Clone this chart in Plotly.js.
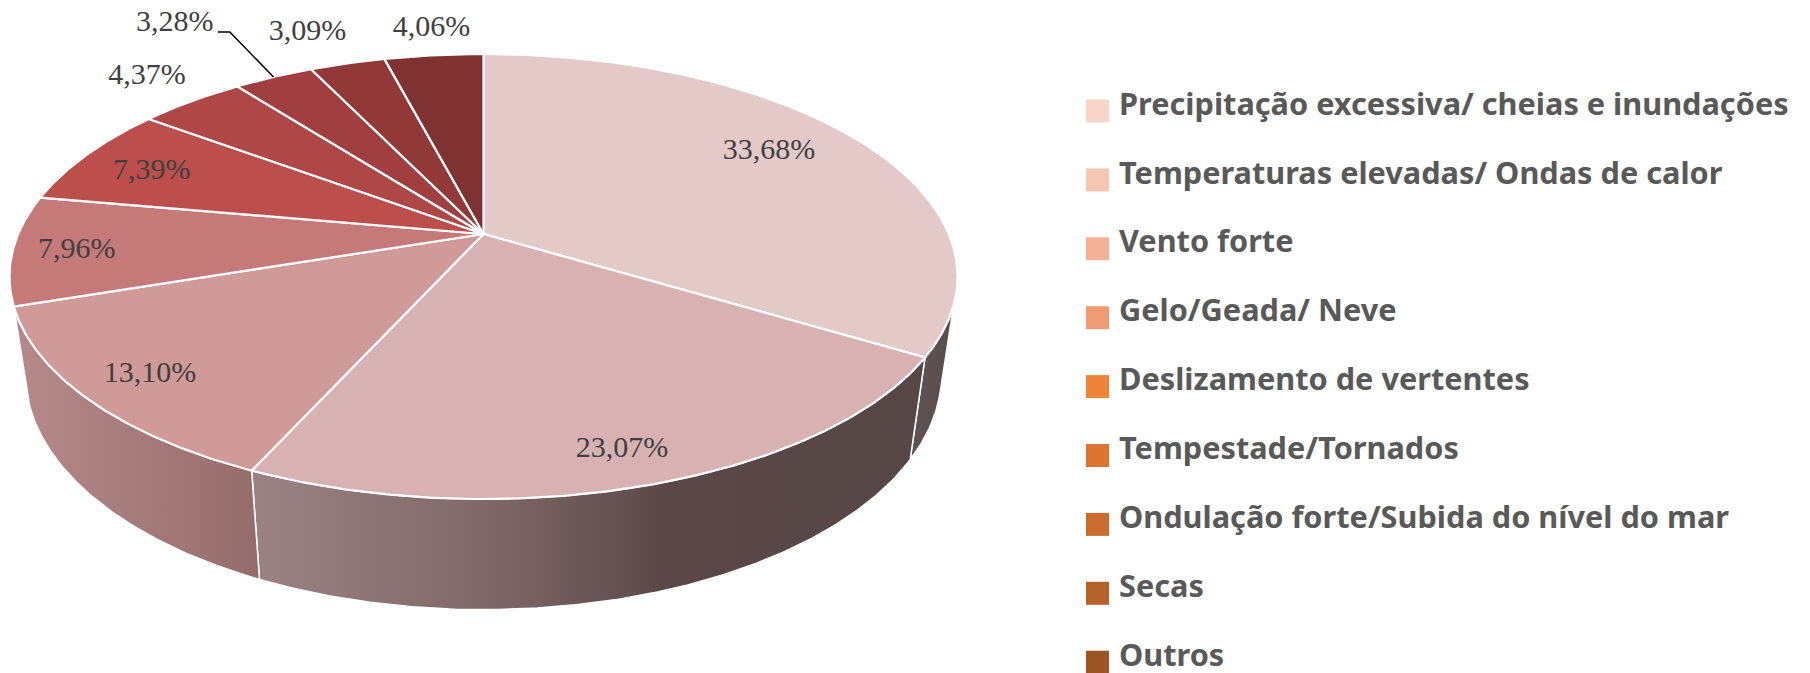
<!DOCTYPE html>
<html><head><meta charset="utf-8">
<script src="https://cdn.plot.ly/plotly-3.0.1.min.js"></script>
<style>html,body{margin:0;padding:0;background:#fff;overflow:hidden}</style>
</head><body><div id="chart" style="width:1810px;height:673px"></div>
<script>
// ---------- data ----------
const categories = ["Precipitação excessiva/ cheias e inundações","Temperaturas elevadas/ Ondas de calor","Vento forte","Gelo/Geada/ Neve","Deslizamento de vertentes","Tempestade/Tornados","Ondulação forte/Subida do nível do mar","Secas","Outros"];
const values = [33.68,23.07,13.10,7.96,7.39,4.37,3.28,3.09,4.06];
// ---------- styles ----------
const sliceColors = ["#E4C9C9","#D8B2B2","#CF9A98","#C57A79","#BC4E4C","#AE4745","#A13F40","#923938","#803232"];
const legendColors = ["#F9D5C9","#F7C5B3","#F4B198","#F29B73","#EF8436","#DE752F","#CB6C2E","#B7612A","#9C5425"];
const sideGradients = {
  0:[[0,"#5E5252"],[1,"#5A4D4D"]],
  1:[[0,"#9C8383"],[0.35,"#7F6868"],[0.62,"#5A4848"],[1,"#574646"]],
  2:[[0,"#B78A8A"],[1,"#956C6C"]]
};
const labelRadius = [.787,.874,.858,.866,.82,1.212,1.474,1.251,1.192];
const labelShift = [-3.2,.6,.2,-.1,-.7,1.3,-2.1,-1.5,.7];
// ---------- perspective disc ----------
const top3d = {cx:483.5, ay:234, a:465.3, b:214.4, k:.191};
const bot3d = {cx:483.5, ay:329, a:449.6, b:227, k:.191};
const rad = d => d*Math.PI/180;
function proj(g, deg, r=1){
  const s=Math.sin(rad(deg))*r, c=Math.cos(rad(deg))*r, D=1+g.k*c;
  return [g.cx+g.a*s/D, g.ay-g.b*c/D];
}
function arc(g, d0, d1){
  const n=Math.max(2,Math.ceil(Math.abs(d1-d0)*2)), pts=[];
  for(let i=0;i<=n;i++) pts.push(proj(g,d0+(d1-d0)*i/n));
  return pts;
}
const total = values.reduce((a,b)=>a+b,0);
let cum=0;
const spans = values.map(v=>{const a=cum/total*360; cum+=v; return [a,cum/total*360];});
const traces=[];
// side walls (visible front part only)
const visFrom=108, visTo=spans[2][1], botFrom=105, botTo=255;
[0,1,2].forEach(i=>{
  const t0=Math.max(spans[i][0],visFrom), t1=Math.min(spans[i][1],visTo);
  const b0=i===0?botFrom:spans[i][0], b1=i===2?botTo:spans[i][1];
  const pts=arc(top3d,t0,t1).concat(arc(bot3d,b1,b0));
  pts.push(pts[0]);
  traces.push({type:'scatter',mode:'lines',x:pts.map(p=>p[0]),y:pts.map(p=>p[1]),fill:'toself',
    line:{color:'#fff',width:1.5},
    fillgradient:{type:'horizontal',colorscale:sideGradients[i]},
    hoverinfo:'skip',showlegend:false});
});
// top surface slices
spans.forEach((sp,i)=>{
  const pts=[proj(top3d,0,0)].concat(arc(top3d,sp[0],sp[1]));
  pts.push(pts[0]);
  traces.push({type:'scatter',mode:'lines',name:categories[i],x:pts.map(p=>p[0]),y:pts.map(p=>p[1]),
    fill:'toself',fillcolor:sliceColors[i],line:{color:'#fff',width:2.2},
    hoverinfo:'name',showlegend:false});
});
// leader line of the small slice
const lIdx=6, lMid=(spans[lIdx][0]+spans[lIdx][1])/2;
const lAnchor=proj(top3d,lMid+labelShift[lIdx],labelRadius[lIdx]);
const lRim=proj(top3d,lMid);
traces.push({type:'scatter',mode:'lines',x:[lAnchor[0]+43,lAnchor[0]+55,lRim[0]],y:[lAnchor[1]+11,lAnchor[1]+11,lRim[1]],
  line:{color:'#000',width:1.5},hoverinfo:'skip',showlegend:false});
// data labels
const labelDy=2;
const lblPts=spans.map((sp,i)=>proj(top3d,(sp[0]+sp[1])/2+labelShift[i],labelRadius[i]));
traces.push({type:'scatter',mode:'text',x:lblPts.map(p=>p[0]),y:lblPts.map(p=>p[1]+labelDy),
  text:values.map(v=>v.toFixed(2).replace('.',',')+'%'),textposition:'middle center',
  textfont:{family:'"Liberation Serif",serif',size:30,color:'#404040'},hoverinfo:'skip',showlegend:false});
// legend
const legX=1086, legW=23, legH=23, legTop=111, legStep=68.9, legTextX=1119, legTextDy=-4;
const shapes=categories.map((c,i)=>({type:'rect',xref:'x',yref:'y',layer:'below',
  x0:legX,x1:legX+legW,y0:legTop+i*legStep-legH/2,y1:legTop+i*legStep+legH/2,
  fillcolor:legendColors[i],line:{width:0}}));
traces.push({type:'scatter',mode:'text',x:categories.map(()=>legTextX),y:categories.map((c,i)=>legTop+i*legStep+legTextDy),
  text:categories,textposition:'middle right',
  textfont:{family:'"Noto Sans",sans-serif',size:30.7,color:'#595959',weight:700},
  hoverinfo:'skip',showlegend:false,cliponaxis:false});
Plotly.newPlot('chart',traces,{
  width:1810,height:673,margin:{l:0,r:0,t:0,b:0},paper_bgcolor:'#fff',plot_bgcolor:'#fff',showlegend:false,
  xaxis:{range:[0,1810],visible:false,fixedrange:true},
  yaxis:{range:[673,0],visible:false,fixedrange:true},
  shapes
},{displayModeBar:false,responsive:false});
</script></body></html>
